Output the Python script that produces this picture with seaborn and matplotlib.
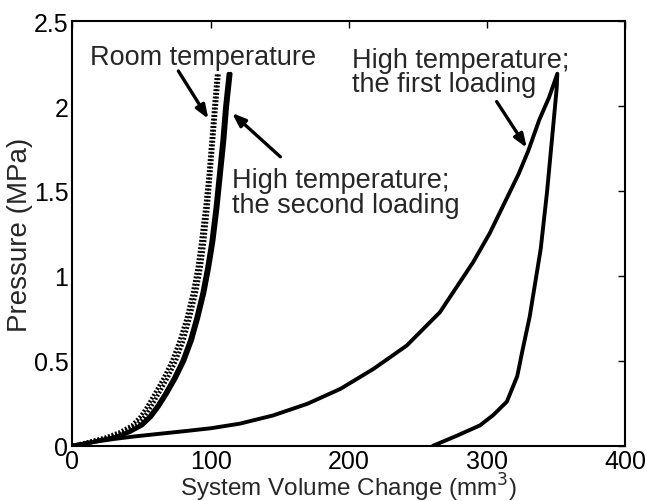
import numpy as np
import pandas as pd
import matplotlib
matplotlib.use("Agg")
import matplotlib.pyplot as plt
import seaborn as sns

# Pressure levels (MPa) shared by the steep curves
p_steep = [0, 0.02, 0.05, 0.08, 0.12, 0.17, 0.23, 0.3, 0.4, 0.5, 0.62, 0.75,
           0.9, 1.05, 1.2, 1.4, 1.6, 1.8, 2.0, 2.19]

# Room temperature repeats (volume, mm^3)
room_a = [0, 10, 24, 34, 43, 49, 54, 59, 66, 72, 77.5, 82.5, 87, 90.5, 93,
          96, 98.5, 100.5, 102.5, 104.5]
room_b = [0, 12, 27, 37, 46, 52, 57, 62, 69, 75, 80.5, 85, 89.5, 93, 95.5,
          98, 100, 102, 104, 106]
# High temperature, second loading repeats
second_a = [0, 13, 30, 40, 49, 55.5, 61, 66.5, 73.5, 79.5, 85, 89.5, 94,
            97.5, 100.5, 103.5, 106, 108.5, 110.5, 113]
second_b = [0, 14, 31.5, 41.5, 50.5, 57, 62.5, 68, 75, 81, 86.5, 91, 95.5,
            99, 102, 105, 107.5, 110, 112, 114.5]

# High temperature, first loading (loading then unloading)
first_load_v = [0, 5, 10, 20, 30, 45, 60, 80, 100, 121, 145, 170, 194, 218,
                242, 266, 290, 302, 314, 323, 330, 338, 345, 351]
first_load_p = [0, 0.008, 0.015, 0.028, 0.04, 0.055, 0.068, 0.085, 0.103,
                0.13, 0.178, 0.247, 0.335, 0.453, 0.59, 0.786, 1.08, 1.25,
                1.45, 1.6, 1.737, 1.92, 2.05, 2.19]
unload_v = [351, 350.5, 348, 343.5, 339, 335, 331, 326, 322, 314.5, 304.5,
            295, 278.5, 261]
unload_p = [2.19, 2.1, 1.88, 1.49, 1.16, 0.96, 0.76, 0.57, 0.41, 0.26, 0.18,
            0.12, 0.06, 0]

x_ticks = [0, 100, 200, 300, 400]
y_ticks = [0, 0.5, 1, 1.5, 2, 2.5]
y_tick_labels = ["0", "0.5", "1", "1.5", "2", "2.5"]

sns.set_style("white")
plt.rcParams['font.family'] = ['Liberation Sans', 'DejaVu Sans']

fig = plt.figure(figsize=(6.47, 5.02), dpi=100)
ax = fig.add_axes([0.112, 0.110, 0.854, 0.846])

lw = 2.8
for v in [room_a, room_b]:
    sns.lineplot(x=v, y=p_steep, ax=ax, sort=False, estimator=None,
                 color="black", lw=lw, linestyle=(0, (0.5, 0.45)))
for v in [second_a, second_b]:
    sns.lineplot(x=v, y=p_steep, ax=ax, sort=False, estimator=None,
                 color="black", lw=lw)
sns.lineplot(x=first_load_v + unload_v, y=first_load_p + unload_p, ax=ax,
             sort=False, estimator=None, color="black", lw=lw)

ax.set_xlim(0, 400)
ax.set_ylim(0, 2.5)
ax.set_xticks(x_ticks)
ax.set_xticklabels([str(t) for t in x_ticks])
ax.set_yticks(y_ticks)
ax.set_yticklabels(y_tick_labels)
ax.tick_params(direction="in", top=True, right=True, length=5, width=1,
               labelsize=18, pad=3, colors="black")
ax.tick_params(axis="x", pad=2)
for s in ax.spines.values():
    s.set_linewidth(1.5)
    s.set_color("black")

ax.set_xlabel("System Volume Change (mm$^3$)", fontsize=17.5)
ax.set_ylabel("Pressure (MPa)", fontsize=20)
ax.xaxis.set_label_coords(0.5, -0.0595)
ax.yaxis.set_label_coords(-0.072, 0.5)

fs = 19.5
arrowprops = dict(arrowstyle="-|>,head_length=0.8,head_width=0.3", color="black", lw=2.4)
ax.text(13, 2.29, "Room temperature", fontsize=fs, va="center", ha="left")
ax.annotate("", xy=(99.5, 1.91), xytext=(75.6, 2.22), arrowprops=arrowprops)
ax.text(115.5, 1.49, "High temperature;\nthe second loading", fontsize=fs,
        va="center", ha="left", linespacing=0.95)
ax.annotate("", xy=(114, 1.97), xytext=(152, 1.69), arrowprops=arrowprops)
ax.text(202.5, 2.2, "High temperature;\nthe first loading", fontsize=fs,
        va="center", ha="left", linespacing=0.92)
ax.annotate("", xy=(330, 1.74), xytext=(306, 2.04), arrowprops=arrowprops)

fig.savefig("out.png", dpi=100)
